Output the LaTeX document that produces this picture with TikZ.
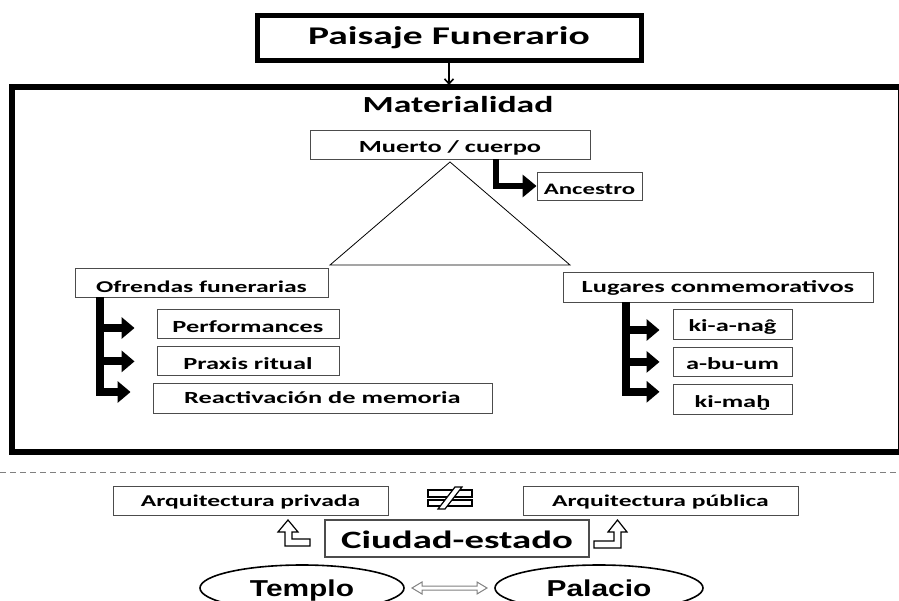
\documentclass[tikz,border=0pt]{standalone}
\usepackage{fontspec}
\setmainfont{Carlito}[FakeStretch=1.55]
\newfontfamily\arialwide{Liberation Sans}[FakeStretch=1.3]
\usetikzlibrary{arrows.meta,positioning,calc,shapes.geometric}

\newcommand{\fsz}[1]{\fontsize{#1}{#1}\selectfont}

\begin{document}
\begin{tikzpicture}[x=1pt,y=-1pt,
  box/.style={draw=black!70,line width=0.9pt,inner sep=0pt,font=\bfseries\fsz{17},
    text height=15pt,text depth=0pt},
  bigbox/.style={draw,line width=5pt,inner sep=0pt,font=\bfseries\fsz{25.5},
    text height=12.4pt,text depth=0pt},
  fat/.style={line width=8pt,-{Triangle[length=13pt,width=21pt]}},
  hollow/.style={draw=black,line width=1.2pt,fill=white,line join=miter},
  oval/.style={ellipse,draw,line width=1.6pt,inner sep=0pt,font=\arialwide\bfseries\fsz{23},
    text height=16pt,text depth=0pt}]
  \useasboundingbox (0,0) rectangle (899,601);
  \clip (0,0) rectangle (899,601);

  % frame around the material part
  \draw[line width=6pt] (12,87) rectangle (901,452);
  \node[bigbox,minimum width=384pt,minimum height=45pt] (paisaje) at (449,38) {Paisaje Funerario};
  \draw[line width=1.6pt,-{Straight Barb[length=5pt,width=9pt]}] (paisaje.south -| 449,0) -- (449,85);
  \node[font=\bfseries\fsz{23}] (mat) at (458,105) {Materialidad};

  % triangle of the body
  \node[box,text height=17pt,minimum width=280pt,minimum height=29pt] (muerto) at (450,144.5) {Muerto / cuerpo};
  \node[box,font=\bfseries\fsz{16},text height=16.3pt,minimum width=105pt,minimum height=28pt] (ancestro) at (589.5,186) {Ancestro};
  \draw[line width=0.8pt] (450,162) -- (330,265) -- (570,265) -- cycle;
  \draw[line width=6.5pt,-{Triangle[length=14pt,width=22pt]}] ($(muerto.south)+(46,0)$) |- (ancestro.west);

  % offerings
  \node[box,font=\bfseries\fsz{16.5},text height=20pt,minimum width=253pt,minimum height=29pt] (ofrendas) at (201.5,282.5) {Ofrendas funerarias};
  \node[box,text height=18pt,minimum width=182pt,minimum height=29pt] (perf) at (248,323.5) {Performances};
  \node[box,text height=16pt,minimum width=182pt,minimum height=29pt,below=8pt of perf] (praxis) {Praxis ritual};
  \node[box,text height=11.5pt,minimum width=339pt,minimum height=30pt] (reac) at (322.5,398) {Reactivación de memoria};
  \coordinate (ofrbar) at (100,297);
  \draw[fat] (ofrbar) |- ([xshift=-22pt,yshift=6pt]reac.west);
  \draw[fat] ([yshift=-4.5pt]ofrbar |- perf) -- ([xshift=-22pt,yshift=-4.5pt]perf.west);
  \draw[fat] (ofrbar |- praxis) -- ([xshift=-22pt]praxis.west);

  % commemorative places
  \node[box,text height=12pt,minimum width=310pt,minimum height=30pt] (lugares) at (718,287) {Lugares conmemorativos};
  \node[box,minimum width=119pt,minimum height=30pt] (kianag) at (732.5,324) {ki-a-naĝ};
  \node[box,minimum width=119pt,minimum height=29pt,below=7.5pt of kianag] (abuum) {a-bu-um};
  \node[box,minimum width=119pt,minimum height=30pt,below=7.5pt of abuum] (kimah) {ki-maḫ};
  \coordinate (lugbar) at (626,302);
  \draw[fat] (lugbar) |- ([xshift=-13pt,yshift=8pt]kimah.west);
  \draw[fat] ([yshift=-6pt]lugbar |- kianag) -- ([xshift=-13pt,yshift=-6pt]kianag.west);
  \draw[fat] (lugbar |- abuum) -- ([xshift=-13pt]abuum.west);

  \draw[gray,line width=0.9pt,dash pattern=on 6pt off 4pt] (0,472) -- (899,472);

  % city-state
  \node[box,font=\bfseries\fsz{16.5},text height=11.6pt,minimum width=275pt,minimum height=29pt] (privada) at (250.5,500.5) {Arquitectura privada};
  \node[box,font=\bfseries\fsz{16.5},text height=11.6pt,minimum width=275pt,minimum height=29pt] (publica) at (660.5,500.5) {Arquitectura pública};
  \node[box,line width=1.1pt,font=\bfseries\fsz{25},text height=20pt,minimum width=264pt,minimum height=37pt] (ciudad) at (457,538.5) {Ciudad-estado};
  % not-equal sign
  \draw[hollow] (428,490) rectangle (472,497);
  \draw[hollow] (428,500) rectangle (472,506);
  \draw[hollow] (438,509) -- (445,509) -- (462,487) -- (455,487) -- cycle;
  % hollow bent arrows
  \draw[hollow] (288,520) -- (298,532) -- (292,532) -- (292,539) -- (310,539) -- (310,546)
    -- (285,546) -- (285,532) -- (278,532) -- cycle;
  \draw[hollow] (617.5,520) -- (627,532) -- (621,532) -- (621,548) -- (594,548) -- (594,541)
    -- (614,541) -- (614,532) -- (608,532) -- cycle;

  \node[oval,minimum width=204pt,minimum height=46pt] (templo) at (302,588) {Templo};
  \node[oval,minimum width=208pt,minimum height=46pt] (palacio) at (599,588) {Palacio};
  \draw[draw=gray,line width=1pt,fill=white] (412,588) -- (422,582) -- (422,586) -- (477,586)
    -- (477,582) -- (487,588) -- (477,594) -- (477,590) -- (422,590) -- (422,594) -- cycle;
\end{tikzpicture}
\end{document}
